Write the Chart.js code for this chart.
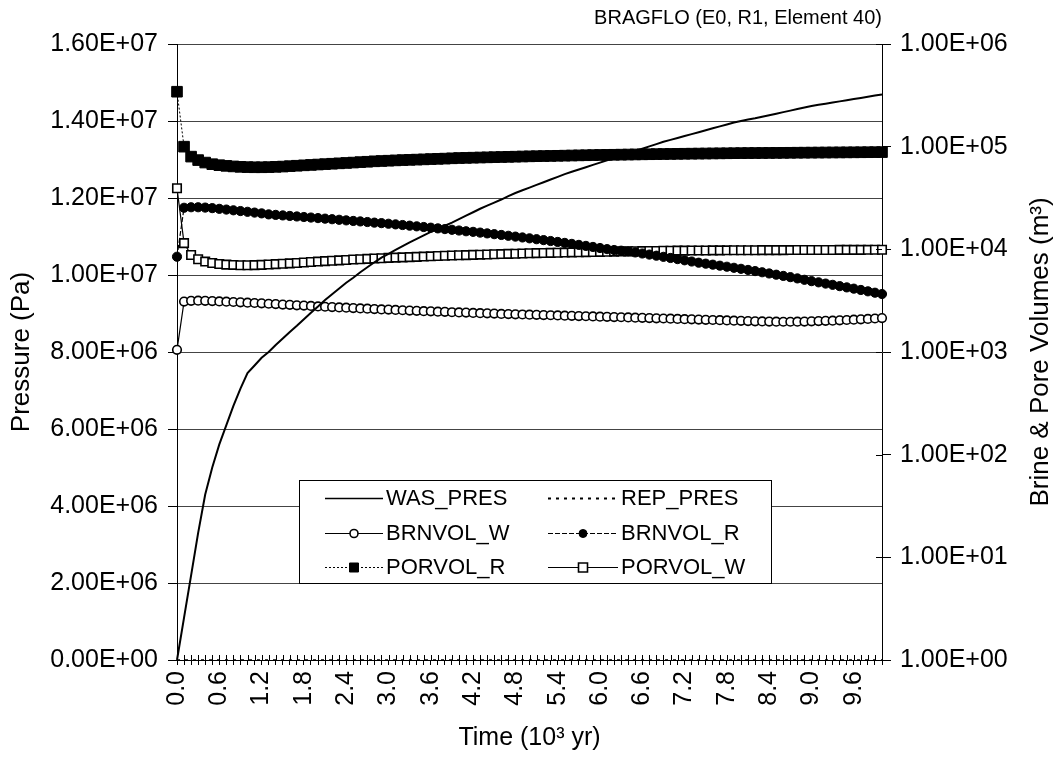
<!DOCTYPE html>
<html>
<head>
<meta charset="utf-8">
<script src="https://cdn.jsdelivr.net/npm/chart.js@4.4.1/dist/chart.umd.min.js"></script>
<style>
  html, body { margin: 0; padding: 0; background: #fff; }
  #wrap { width: 1062px; height: 760px; position: relative; }
</style>
</head>
<body>
<div id="wrap"><canvas id="bragfloChart"></canvas></div>
<script>
// Time (10^3 yr)
const times = [
  0.0, 0.1, 0.2, 0.3, 0.4, 0.5, 0.6, 0.7, 0.8, 0.9,
  1.0, 1.1, 1.2, 1.3, 1.4, 1.5, 1.6, 1.7, 1.8, 1.9,
  2.0, 2.1, 2.2, 2.3, 2.4, 2.5, 2.6, 2.7, 2.8, 2.9,
  3.0, 3.1, 3.2, 3.3, 3.4, 3.5, 3.6, 3.7, 3.8, 3.9,
  4.0, 4.1, 4.2, 4.3, 4.4, 4.5, 4.6, 4.7, 4.8, 4.9,
  5.0, 5.1, 5.2, 5.3, 5.4, 5.5, 5.6, 5.7, 5.8, 5.9,
  6.0, 6.1, 6.2, 6.3, 6.4, 6.5, 6.6, 6.7, 6.8, 6.9,
  7.0, 7.1, 7.2, 7.3, 7.4, 7.5, 7.6, 7.7, 7.8, 7.9,
  8.0, 8.1, 8.2, 8.3, 8.4, 8.5, 8.6, 8.7, 8.8, 8.9,
  9.0, 9.1, 9.2, 9.3, 9.4, 9.5, 9.6, 9.7, 9.8, 9.9,
  10.0
];

// Pressure (Pa)
const wasPres = [
  0, 1.1e6, 2.2e6, 3.3e6, 4.3e6, 5.0e6, 5.6e6, 6.1e6, 6.6e6, 7.05e6,
  7.45e6, 7.65e6, 7.85e6, 8.0e6, 8.18e6, 8.35e6, 8.52e6, 8.68e6, 8.85e6, 9.02e6,
  9.18e6, 9.35e6, 9.5e6, 9.65e6, 9.8e6, 9.93e6, 10.07e6, 10.2e6, 10.33e6, 10.45e6,
  10.55e6, 10.65e6, 10.75e6, 10.85e6, 10.94e6, 11.03e6, 11.12e6, 11.2e6, 11.28e6, 11.36e6,
  11.45e6, 11.54e6, 11.63e6, 11.72e6, 11.8e6, 11.88e6, 11.96e6, 12.05e6, 12.13e6, 12.2e6,
  12.27e6, 12.34e6, 12.41e6, 12.48e6, 12.55e6, 12.62e6, 12.68e6, 12.74e6, 12.8e6, 12.86e6,
  12.92e6, 12.98e6, 13.04e6, 13.1e6, 13.16e6, 13.22e6, 13.28e6, 13.34e6, 13.4e6, 13.46e6,
  13.51e6, 13.56e6, 13.61e6, 13.66e6, 13.71e6, 13.76e6, 13.81e6, 13.86e6, 13.91e6, 13.96e6,
  14.0e6, 14.04e6, 14.07e6, 14.11e6, 14.15e6, 14.19e6, 14.23e6, 14.27e6, 14.31e6, 14.35e6,
  14.39e6, 14.42e6, 14.45e6, 14.48e6, 14.51e6, 14.54e6, 14.57e6, 14.6e6, 14.63e6, 14.66e6,
  14.69e6
];

const repPres = [
  0, 0, 0, 0, 0, 0, 0, 0, 0, 0,
  0, 0, 0, 0, 0, 0, 0, 0, 0, 0,
  0, 0, 0, 0, 0, 0, 0, 0, 0, 0,
  0, 0, 0, 0, 0, 0, 0, 0, 0, 0,
  0, 0, 0, 0, 0, 0, 0, 0, 0, 0,
  0, 0, 0, 0, 0, 0, 0, 0, 0, 0,
  0, 0, 0, 0, 0, 0, 0, 0, 0, 0,
  0, 0, 0, 0, 0, 0, 0, 0, 0, 0,
  0, 0, 0, 0, 0, 0, 0, 0, 0, 0,
  0, 0, 0, 0, 0, 0, 0, 0, 0, 0,
  0
];

// Brine & pore volumes (m3)
const brnvolW = [
  1050, 3100, 3150, 3160, 3150, 3130, 3110, 3090, 3070, 3050,
  3020, 3000, 2980, 2950, 2930, 2900, 2880, 2850, 2830, 2810,
  2780, 2760, 2740, 2720, 2700, 2680, 2660, 2640, 2620, 2600,
  2590, 2570, 2550, 2530, 2520, 2500, 2490, 2470, 2460, 2440,
  2430, 2420, 2400, 2390, 2380, 2370, 2350, 2340, 2330, 2320,
  2310, 2300, 2290, 2280, 2270, 2260, 2250, 2240, 2230, 2220,
  2210, 2200, 2190, 2180, 2170, 2160, 2150, 2140, 2130, 2120,
  2110, 2100, 2090, 2080, 2070, 2060, 2050, 2040, 2030, 2020,
  2010, 2000, 1990, 1985, 1980, 1975, 1970, 1970, 1975, 1980,
  1990, 2000, 2010, 2020, 2035, 2050, 2065, 2080, 2100, 2120,
  2140
];

const brnvolR = [
  8470, 25400, 25700, 25700, 25500, 25200, 24800, 24400, 24000, 23600,
  23200, 22800, 22400, 21900, 21650, 21400, 21150, 20900, 20650, 20400,
  20150, 19900, 19650, 19400, 19150, 18900, 18700, 18450, 18200, 18000,
  17750, 17500, 17250, 17000, 16750, 16500, 16250, 16000, 15750, 15500,
  15250, 15000, 14800, 14550, 14300, 14050, 13800, 13550, 13300, 13050,
  12800, 12550, 12300, 12050, 11800, 11550, 11300, 11050, 10800, 10550,
  10300, 10050, 9850, 9700, 9550, 9330, 9110, 8890, 8670, 8450,
  8240, 8030, 7820, 7610, 7410, 7250, 7090, 6930, 6770, 6610,
  6460, 6300, 6140, 5980, 5820, 5660, 5510, 5360, 5210, 5050,
  4900, 4770, 4640, 4510, 4380, 4260, 4140, 4020, 3900, 3780,
  3670
];

const porvolR = [
  343000, 100000, 80000, 74000, 70000, 67500, 66000, 65000, 64200, 63600,
  63200, 63000, 63000, 63200, 63600, 64000, 64600, 65200, 65800, 66400,
  67000, 67600, 68200, 68800, 69400, 70000, 70700, 71300, 72000, 72500,
  73000, 73500, 74000, 74400, 74800, 75200, 75700, 76100, 76500, 77000,
  77500, 77800, 78100, 78400, 78700, 79000, 79300, 79600, 79900, 80200,
  80500, 80750, 81000, 81250, 81500, 81750, 82000, 82250, 82500, 82750,
  83000, 83200, 83400, 83600, 83800, 84000, 84200, 84400, 84600, 84800,
  85000, 85150, 85300, 85450, 85600, 85750, 85900, 86050, 86200, 86350,
  86500, 86600, 86700, 86800, 86900, 87000, 87100, 87200, 87300, 87400,
  87500, 87600, 87700, 87800, 87900, 88000, 88100, 88200, 88300, 88400,
  88500
];

const porvolW = [
  39300, 11500, 8800, 8000, 7600, 7350, 7200, 7100, 7050, 7000,
  7000, 7020, 7060, 7110, 7170, 7230, 7300, 7370, 7440, 7520,
  7600, 7670, 7740, 7810, 7880, 7950, 8010, 8070, 8130, 8190,
  8250, 8300, 8350, 8400, 8450, 8500, 8550, 8600, 8650, 8700,
  8750, 8790, 8830, 8870, 8910, 8950, 8990, 9030, 9070, 9110,
  9150, 9180, 9210, 9240, 9270, 9300, 9330, 9360, 9390, 9420,
  9450, 9475, 9500, 9525, 9550, 9575, 9600, 9625, 9650, 9675,
  9700, 9710, 9720, 9730, 9740, 9750, 9760, 9770, 9780, 9790,
  9800, 9805, 9810, 9815, 9820, 9825, 9830, 9835, 9840, 9845,
  9850, 9855, 9860, 9865, 9870, 9875, 9880, 9885, 9890, 9895,
  9900
];

// right axis decades
const volTicks = [1, 10, 100, 1000, 10000, 100000, 1000000];

const FONT = '"Liberation Sans", Arial, Helvetica, sans-serif';

function sci(v) {
    if (v === 0) return "0.00E+00";
    let e = Math.floor(Math.log10(v) + 1e-9);
    let m = v / Math.pow(10, e);
    return m.toFixed(2) + "E" + (e < 0 ? "-" : "+") + String(Math.abs(e)).padStart(2, "0");
}

// extra bits drawn on top: title, right-hand axis title, boxed legend, inner tick marks
const extras = {
    id: "extras",
    afterDraw(chart) {
        const ctx = chart.ctx;
        const area = chart.chartArea;
        ctx.save();
        ctx.fillStyle = "#000";
        ctx.strokeStyle = "#000";

        // chart title
        ctx.font = "20px " + FONT;
        ctx.textAlign = "right";
        ctx.textBaseline = "middle";
        ctx.fillText("BRAGFLO (E0, R1, Element 40)", area.right, 18);

        // right axis title, reads bottom to top
        ctx.save();
        ctx.font = "26px " + FONT;
        ctx.translate(1041, (area.top + area.bottom) / 2);
        ctx.rotate(-Math.PI / 2);
        ctx.textAlign = "center";
        ctx.fillText("Brine & Pore Volumes (m\u00B3)", 0, 0);
        ctx.restore();

        // inner halves of the crossing tick marks
        ctx.lineWidth = 1;
        const xs = chart.scales.x;
        ctx.beginPath();
        for (let i = 0; i < times.length; i++) {
            const px = Math.round(xs.getPixelForValue(i)) + 0.5;
            ctx.moveTo(px, area.bottom);
            ctx.lineTo(px, area.bottom - 5);
        }
        const ys = chart.scales.y1;
        volTicks.forEach(v => {
            const py = Math.round(ys.getPixelForValue(v)) + 0.5;
            ctx.moveTo(area.right, py);
            ctx.lineTo(area.right - 6, py);
        });
        ctx.stroke();

        // legend box
        const bx = 299, by = 480, bw = 472, bh = 103;
        ctx.fillStyle = "#fff";
        ctx.fillRect(bx, by, bw, bh);
        ctx.strokeStyle = "#000";
        ctx.lineWidth = 1;
        ctx.strokeRect(bx + 0.5, by + 0.5, bw, bh);

        const rows = [498, 533, 567];
        const cols = [{ x0: 325, x1: 383, tx: 386 }, { x0: 548, x1: 618, tx: 621 }];
        ctx.font = "22px " + FONT;
        ctx.textAlign = "left";
        ctx.textBaseline = "middle";
        chart.data.datasets.forEach((ds, k) => {
            const c = cols[k % 2];
            const y = rows[Math.floor(k / 2)];
            ctx.save();
            ctx.strokeStyle = "#000";
            ctx.lineWidth = ds.legendLineWidth || 1;
            ctx.setLineDash(ds.borderDash || []);
            ctx.beginPath();
            ctx.moveTo(c.x0, y + 0.5);
            ctx.lineTo(c.x1, y + 0.5);
            ctx.stroke();
            ctx.setLineDash([]);
            const mx = (c.x0 + c.x1) / 2;
            if (ds.pointRadius > 0) {
                ctx.fillStyle = ds.pointBackgroundColor;
                ctx.lineWidth = ds.pointBorderWidth;
                ctx.beginPath();
                if (ds.pointStyle === "circle") {
                    ctx.arc(mx, y + 0.5, 4, 0, Math.PI * 2);
                } else {
                    ctx.rect(mx - 4.5, y - 4, 9, 9);
                }
                ctx.fill();
                ctx.stroke();
            }
            ctx.restore();
            ctx.fillStyle = "#000";
            ctx.fillText(ds.label, c.tx, y + 1);
        });
        ctx.restore();
    }
};

document.addEventListener("DOMContentLoaded", () => {
    const ctx = document.getElementById("bragfloChart").getContext("2d");

    Chart.defaults.font.family = FONT;
    Chart.defaults.color = "#000";

    const data = {
        labels: times.map(t => t.toFixed(1)),
        datasets: [
            {
                label: "WAS_PRES",
                data: wasPres,
                yAxisID: "y",
                borderColor: "#000",
                borderWidth: 2,
                legendLineWidth: 1.5,
                pointRadius: 0,
                clip: false
            },
            {
                label: "REP_PRES",
                data: repPres,
                yAxisID: "y",
                borderColor: "#000",
                borderWidth: 1.5,
                legendLineWidth: 2,
                borderDash: [3, 5],
                pointRadius: 0,
                clip: false
            },
            {
                label: "BRNVOL_W",
                data: brnvolW,
                yAxisID: "y1",
                borderColor: "#000",
                borderWidth: 1.2,
                pointStyle: "circle",
                pointRadius: 4.3,
                pointBackgroundColor: "#fff",
                pointBorderColor: "#000",
                pointBorderWidth: 1.6,
                clip: false
            },
            {
                label: "BRNVOL_R",
                data: brnvolR,
                yAxisID: "y1",
                borderColor: "#000",
                borderWidth: 1.2,
                borderDash: [5, 2],
                pointStyle: "circle",
                pointRadius: 4.6,
                pointBackgroundColor: "#000",
                pointBorderColor: "#000",
                pointBorderWidth: 1,
                clip: false
            },
            {
                label: "PORVOL_R",
                data: porvolR,
                yAxisID: "y1",
                borderColor: "#000",
                borderWidth: 1,
                borderDash: [2, 2],
                pointStyle: "rect",
                pointRadius: 7.5,
                pointBackgroundColor: "#000",
                pointBorderColor: "#000",
                pointBorderWidth: 1,
                clip: false
            },
            {
                label: "PORVOL_W",
                data: porvolW,
                yAxisID: "y1",
                borderColor: "#000",
                borderWidth: 1.2,
                pointStyle: "rect",
                pointRadius: 6,
                pointBackgroundColor: "#fff",
                pointBorderColor: "#000",
                pointBorderWidth: 1.6,
                clip: false
            }
        ]
    };

    const options = {
        responsive: true,
        maintainAspectRatio: false,
        animation: false,
        layout: {
            padding: { left: 6, right: 6, top: 44, bottom: 6 }
        },
        plugins: {
            legend: { display: false },
            tooltip: { enabled: false }
        },
        scales: {
            x: {
                type: "category",
                offset: false,
                grid: {
                    drawOnChartArea: false,
                    tickLength: 5,
                    color: "#000"
                },
                border: { color: "#000", width: 1 },
                ticks: {
                    autoSkip: false,
                    minRotation: 90,
                    maxRotation: 90,
                    padding: 6,
                    font: { size: 25 },
                    callback: (v, i) => (i % 6 === 0 ? times[i].toFixed(1) : "")
                },
                title: {
                    display: true,
                    text: "Time (10\u00B3 yr)",
                    font: { size: 25 },
                    padding: { top: 0, bottom: 1 }
                },
                afterFit: s => { s.height = 94; }
            },
            y: {
                position: "left",
                min: 0,
                max: 1.6e7,
                ticks: {
                    stepSize: 2e6,
                    padding: 10,
                    font: { size: 25 },
                    callback: v => sci(v)
                },
                grid: {
                    color: "#444",
                    lineWidth: 1,
                    tickLength: 9,
                    tickColor: "#000"
                },
                border: { color: "#000", width: 1 },
                title: {
                    display: true,
                    text: "Pressure (Pa)",
                    font: { size: 26 },
                    padding: { top: 0, bottom: 0 }
                },
                afterFit: s => { s.width = 171; }
            },
            y1: {
                type: "logarithmic",
                position: "right",
                min: 1,
                max: 1e6,
                afterBuildTicks: s => {
                    s.ticks = volTicks.map(v => ({ value: v }));
                },
                ticks: {
                    padding: 9,
                    font: { size: 25 },
                    callback: v => sci(v)
                },
                grid: {
                    drawOnChartArea: false,
                    tickLength: 9,
                    color: "#000"
                },
                border: { color: "#000", width: 1 },
                afterFit: s => { s.width = 174; }
            }
        }
    };

    new Chart(ctx, {
        type: "line",
        data: data,
        options: options,
        plugins: [extras]
    });
});
</script>
</body>
</html>
